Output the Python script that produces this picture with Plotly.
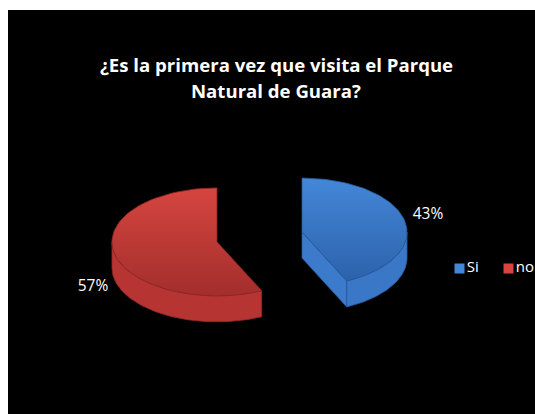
import math
import plotly.graph_objects as go

# ---- data ----
labels = ["Si", "no"]
values = [43, 57]
title_lines = ["¿Es la primera vez que visita el Parque", "Natural de Guara?"]

# ---- style ----
W, H = 535, 414
top_colors = [("#4487d8", "#2c62ab"), ("#d6453f", "#a22e2c")]
side_colors = ["#3a77c7", "#b63533"]
cut_colors = ["#3c7bcc", "#b03331"]
edge_colors = ["#2a5a9c", "#8e2826"]
center0 = (259.5, 237.0)
rx, ry, depth = 105.0, 54.0, 26.0
explode = 0.415
label_pos = [(428, 215), (93, 287)]
FONT = "Open Sans"

fig = go.Figure()

def pt(cx, cy, a, dy=0.0):
    r = math.radians(a)
    return cx + rx * math.sin(r), cy - ry * math.cos(r) + dy

def arc(cx, cy, a0, a1, dy=0.0, n=80):
    pts = []
    for k in range(n + 1):
        a = a0 + (a1 - a0) * k / n
        pts.append(pt(cx, cy, a, dy))
    return pts

def add_poly(pts, color=None, line=None, gradient=None):
    xs = [p[0] for p in pts] + [pts[0][0]]
    ys = [p[1] for p in pts] + [pts[0][1]]
    kw = dict(x=xs, y=ys, mode="lines", fill="toself", hoverinfo="skip",
              showlegend=False, line=dict(color=line, width=0.8))
    if gradient:
        kw["fillgradient"] = dict(type="vertical", colorscale=[[0, gradient[1]], [1, gradient[0]]])
    else:
        kw["fillcolor"] = color
    fig.add_trace(go.Scatter(**kw))

total = sum(values)
start = 0.0
for i, v in enumerate(values):
    a0 = start
    a1 = start + 360.0 * v / total
    start = a1
    mid = (a0 + a1) / 2
    mr = math.radians(mid)
    cx = center0[0] + explode * rx * math.sin(mr)
    cy = center0[1] - explode * ry * math.cos(mr)
    # cut faces
    if math.sin(math.radians(a1)) > 1e-6:
        e = pt(cx, cy, a1)
        add_poly([(cx, cy), e, (e[0], e[1] + depth), (cx, cy + depth)], color=cut_colors[i], line=edge_colors[i])
    if math.sin(math.radians(a0)) < -1e-6:
        e = pt(cx, cy, a0)
        add_poly([(cx, cy), e, (e[0], e[1] + depth), (cx, cy + depth)], color=cut_colors[i], line=edge_colors[i])
    # outer side
    s0, s1 = max(a0, 90.0), min(a1, 270.0)
    if s1 > s0:
        upper = arc(cx, cy, s0, s1)
        lower = arc(cx, cy, s1, s0, dy=depth)
        add_poly(upper + lower, color=side_colors[i], line=edge_colors[i])
    # top face
    add_poly([(cx, cy)] + arc(cx, cy, a0, a1), gradient=top_colors[i], line=edge_colors[i])

# percentage labels
fig.add_trace(go.Scatter(
    x=[p[0] for p in label_pos], y=[p[1] for p in label_pos],
    mode="text", text=[f"{v}%" for v in values], hoverinfo="skip", showlegend=False,
    textfont=dict(family=FONT, size=15.5, color="white")))

# legend (manual)
leg_x = [459.5, 508.5]
leg_y = 268.5
fig.add_trace(go.Scatter(
    x=leg_x, y=[leg_y] * len(labels), mode="markers+text",
    marker=dict(symbol="square", size=10, color=[c[0] for c in top_colors],
                line=dict(width=0)),
    text=labels, textposition="middle right",
    textfont=dict(family=FONT, size=15, color="white"),
    hoverinfo="skip", showlegend=False, cliponaxis=False))

fig.update_layout(
    width=W, height=H,
    margin=dict(l=0, r=0, t=0, b=0),
    paper_bgcolor="white", plot_bgcolor="rgba(0,0,0,0)",
    xaxis=dict(range=[0, W], visible=False, fixedrange=True),
    yaxis=dict(range=[H, 0], visible=False, fixedrange=True),
    shapes=[dict(type="rect", xref="x", yref="y", x0=8, x1=W, y0=10, y1=H,
                 fillcolor="black", line=dict(width=0), layer="below")],
    annotations=[dict(x=276, y=64 + 26 * k, xref="x", yref="y", text=f"<b>{t}</b>",
                      showarrow=False, font=dict(family=FONT, size=18.6, color="white"))
                 for k, t in enumerate(title_lines)],
)

fig.write_html("out.html", config={"displayModeBar": False},
               post_script="document.body.style.margin='0';document.body.style.overflow='hidden';")
